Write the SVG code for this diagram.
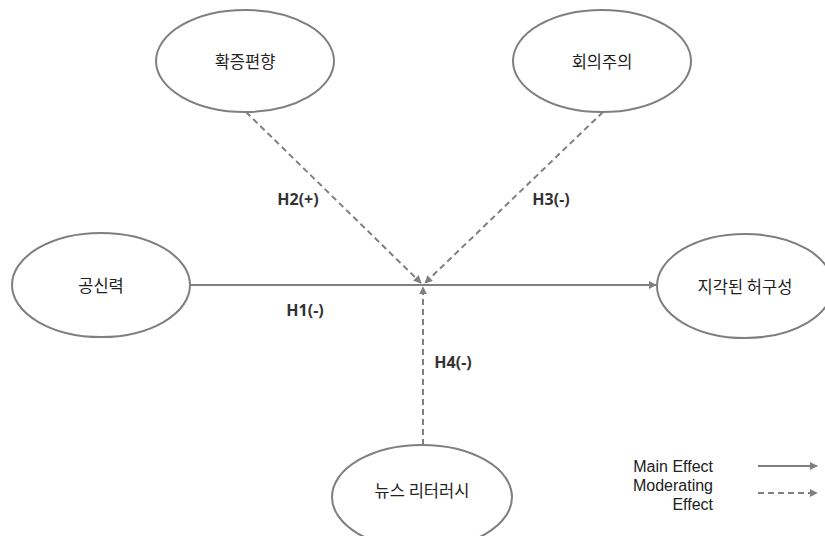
<svg xmlns="http://www.w3.org/2000/svg" width="825" height="536" viewBox="0 0 825 536">
<defs>
<marker id="ah" viewBox="0 0 10 10" refX="9" refY="5" markerWidth="4" markerHeight="4" orient="auto" markerUnits="strokeWidth">
<path d="M0,0 L10,5 L0,10 Z" fill="#808080"/>
</marker>
<style>
.node{fill:#fff;stroke:#7f7f7f;stroke-width:2}
.lbl{font-family:"Noto Sans CJK KR","Noto Sans",sans-serif;font-size:16.5px;fill:#222;text-anchor:middle;dominant-baseline:central}
.h{font-family:"Noto Sans","Liberation Sans",sans-serif;font-size:16px;font-weight:bold;fill:#333;text-anchor:middle;dominant-baseline:central}
.solid{stroke:#808080;stroke-width:2;fill:none}
.dash{stroke:#808080;stroke-width:2;fill:none;stroke-dasharray:6 4}
.leg{font-family:"Liberation Sans",Arial,sans-serif;font-size:16px;fill:#222;text-anchor:end;dominant-baseline:central}
</style>
</defs>
<rect width="825" height="536" fill="#fff"/>
<g id="connectors">
<line class="solid" x1="190" y1="285" x2="656" y2="285" marker-end="url(#ah)"/>
<line class="dash" x1="246" y1="112" x2="421" y2="283" marker-end="url(#ah)"/>
<line class="dash" x1="603" y1="112" x2="425" y2="283" marker-end="url(#ah)"/>
<line class="dash" x1="423" y1="445" x2="423" y2="287" marker-end="url(#ah)"/>
</g>
<g id="n1"><ellipse class="node" cx="245" cy="61" rx="89" ry="51"/><text class="lbl" x="245" y="61">확증편향</text></g>
<g id="n2"><ellipse class="node" cx="602" cy="61" rx="89" ry="51"/><text class="lbl" x="602" y="61">회의주의</text></g>
<g id="n3"><ellipse class="node" cx="101" cy="285" rx="89" ry="52"/><text class="lbl" x="101" y="285">공신력</text></g>
<g id="n4"><ellipse class="node" cx="745" cy="286" rx="88" ry="52"/><text class="lbl" x="745" y="286">지각된 허구성</text></g>
<g id="n5"><ellipse class="node" cx="422" cy="497" rx="90" ry="52"/><text class="lbl" x="422" y="490">뉴스 리터러시</text></g>
<g id="labels">
<text class="h" x="298" y="199">H2(+)</text>
<text class="h" x="551" y="199">H3(-)</text>
<text class="h" x="305" y="310">H1(-)</text>
<text class="h" x="453" y="362">H4(-)</text>
</g>
<g id="legend">
<text class="leg" x="713" y="466">Main Effect</text>
<text class="leg" x="713" y="485">Moderating</text>
<text class="leg" x="713" y="504">Effect</text>
<line class="solid" x1="758" y1="466" x2="817" y2="466" marker-end="url(#ah)"/>
<line class="dash" x1="758" y1="493" x2="817" y2="493" marker-end="url(#ah)"/>
</g>
</svg>
